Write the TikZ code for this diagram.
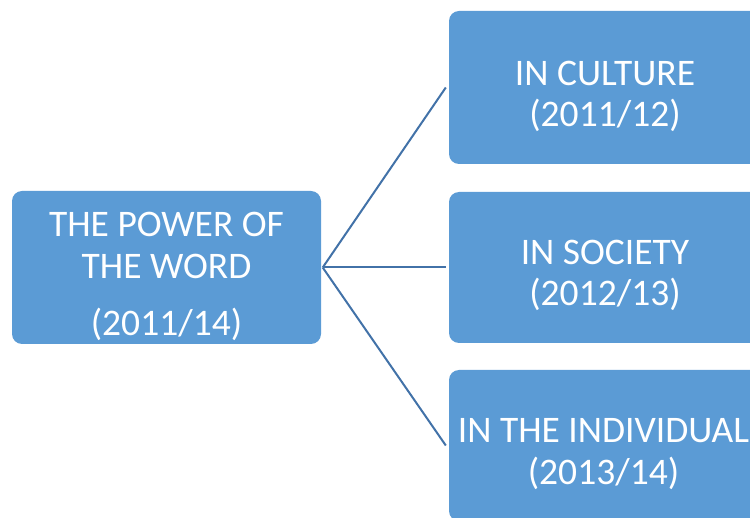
\documentclass[tikz,border=0pt]{standalone}
\usepackage{fontspec}
\setmainfont{Carlito}
\definecolor{boxblue}{HTML}{5B9BD5}
\definecolor{lineblue}{RGB}{66,114,168}
\tikzset{
  box/.style={rectangle, rounded corners=10pt, fill=boxblue, draw=none,
    text=white, align=center, inner sep=0pt,
    font=\fontsize{37.5}{41}\selectfont},
  conn/.style={draw=lineblue, line width=2pt}
}
\begin{document}
\begin{tikzpicture}[x=1pt,y=-1pt]
\useasboundingbox (0,0) rectangle (750,518);
\clip (0,0) rectangle (750,518);
\node[box, minimum width=309pt, minimum height=153pt] (root) at (166.5,267.5) {};
\node[box, minimum width=312pt, minimum height=153pt] (culture) at (605,87.5) {};
\node[box, minimum width=312pt, minimum height=151pt] (society) at (605,267.5) {};
\node[box, minimum width=312pt, minimum height=151pt] (indiv) at (605,445.5) {};
\node[box, anchor=base] (t1) at (166.5,237) {THE POWER OF};
\node[box, anchor=base] (t2) at (166.5,279) {THE WORD};
\node[box, anchor=base] (t3) at (166.5,336) {(2011/14)};
\node[box, anchor=base] (c1) at (605,86) {IN CULTURE};
\node[box, anchor=base] (c2) at (605,127) {(2011/12)};
\node[box, anchor=base] (s1) at (605,265) {IN SOCIETY};
\node[box, anchor=base] (s2) at (605,306) {(2012/13)};
\node[box, anchor=base] (i1) at (603.5,443) {IN THE INDIVIDUAL};
\node[box, anchor=base] (i2) at (603.5,485) {(2013/14)};
\coordinate (hub) at ([xshift=1.5pt]root.east);
\draw[conn] (hub) -- ([xshift=-3pt]culture.west);
\draw[conn] (hub) -- ([xshift=-3pt]society.west);
\draw[conn] (hub) -- ([xshift=-3pt]indiv.west);
\end{tikzpicture}
\end{document}
